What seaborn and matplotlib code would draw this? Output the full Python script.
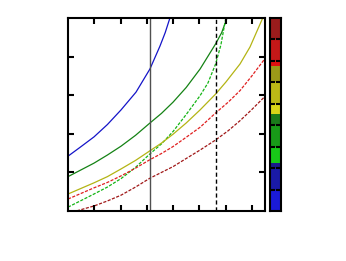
import numpy as np
import pandas as pd
import matplotlib.pyplot as plt
import seaborn as sns
from matplotlib.colors import ListedColormap

# values (x: 0..7.5, y: 0..5)
blue_x = [0.0, 0.46, 0.99, 1.50, 2.02, 2.59, 3.12, 3.50, 3.70, 3.88]
blue_y = [1.42, 1.65, 1.92, 2.24, 2.62, 3.08, 3.68, 4.27, 4.62, 5.00]

green_x = [0.0, 0.99, 1.50, 2.02, 2.57, 3.12, 3.56, 4.00, 4.50, 5.03, 5.62, 5.85, 6.04]
green_y = [0.89, 1.24, 1.45, 1.68, 1.96, 2.28, 2.53, 2.82, 3.20, 3.68, 4.33, 4.62, 4.97]

greendash_x = [0.0, 0.99, 1.50, 2.02, 2.57, 3.12, 3.56, 4.00, 4.50, 5.03, 5.33, 5.62, 5.82, 6.00]
greendash_y = [0.10, 0.44, 0.62, 0.84, 1.13, 1.48, 1.74, 2.06, 2.50, 2.99, 3.32, 3.81, 4.30, 4.97]

olive_x = [0.0, 0.99, 1.50, 2.02, 2.57, 3.12, 3.56, 4.00, 4.50, 5.03, 5.62, 6.01, 6.55, 6.93, 7.42]
olive_y = [0.44, 0.73, 0.89, 1.09, 1.31, 1.56, 1.76, 1.99, 2.28, 2.62, 3.03, 3.34, 3.81, 4.25, 5.01]

red_x = [0.0, 0.99, 1.50, 2.02, 2.57, 3.12, 3.56, 4.00, 4.50, 5.03, 5.62, 6.10, 6.55, 7.00, 7.50]
red_y = [0.31, 0.60, 0.74, 0.91, 1.11, 1.33, 1.49, 1.67, 1.91, 2.17, 2.54, 2.82, 3.12, 3.50, 3.95]

darkred_x = [0.0, 0.99, 1.50, 2.02, 2.57, 3.12, 3.56, 4.00, 4.50, 5.03, 5.62, 6.10, 6.55, 7.00, 7.50]
darkred_y = [-0.06, 0.13, 0.26, 0.41, 0.62, 0.85, 1.00, 1.15, 1.36, 1.58, 1.84, 2.08, 2.34, 2.63, 2.97]

vline_solid = 3.14
vline_dashed = 5.62

# colour strip on the right: band colours and their heights (36 cells)
band_colors = ['#9a1c1c', '#c41818', '#e01010',
               '#9c9a18', '#bcb816', '#d8d418',
               '#1a7a1a', '#189a18', '#18c818',
               '#1a1a8c', '#1a1aa8', '#1a1ad8']
band_sizes = [4, 4, 1, 3, 4, 2, 2, 4, 3, 1, 4, 4]

curves = {
    'blue': (blue_x, blue_y),
    'green': (green_x, green_y),
    'greendash': (greendash_x, greendash_y),
    'olive': (olive_x, olive_y),
    'red': (red_x, red_y),
    'darkred': (darkred_x, darkred_y),
}
df = pd.concat([pd.DataFrame({'x': xs, 'y': ys, 'curve': name})
                for name, (xs, ys) in curves.items()], ignore_index=True)

palette = {'blue': '#1414c8', 'green': '#148214', 'greendash': '#14b414',
           'olive': '#b4b414', 'red': '#e02020', 'darkred': '#a01818'}
dashes = {'blue': '', 'green': '', 'olive': '',
          'greendash': (2.5, 1.2), 'red': (2.5, 1.2), 'darkred': (2.5, 1.2)}

sns.set_style('white')

fig = plt.figure(figsize=(3.46, 2.61), dpi=100)
ax = fig.add_axes([68 / 346, 50 / 261, 197 / 346, 193 / 261])
cax = fig.add_axes([269.5 / 346, 50 / 261, 11.5 / 346, 193 / 261])

sns.lineplot(data=df, x='x', y='y', hue='curve', style='curve',
             palette=palette, dashes=dashes, linewidth=0.9,
             legend=False, ax=ax)
ax.axvline(vline_solid, color='#505050', lw=1.0)
ax.axvline(vline_dashed, color='black', lw=1.0, dashes=(3, 2))

ax.set_xlim(0, 7.5)
ax.set_ylim(0, 5)
ax.set_xticks(range(1, 8))
ax.set_yticks(range(1, 5))
ax.set_xticklabels([])
ax.set_yticklabels([])
ax.set_xlabel('')
ax.set_ylabel('')
ax.set_axisbelow(False)
ax.tick_params(direction='in', length=4, width=1.5, color='black',
               top=True, bottom=True, left=True, right=True)
for s in ax.spines.values():
    s.set_visible(True)
    s.set_linewidth(1.5)
    s.set_color('black')

# colour strip
strip = np.repeat(np.arange(len(band_sizes)), band_sizes)[:, None]
sns.heatmap(strip, cmap=ListedColormap(band_colors), cbar=False, ax=cax,
            vmin=-0.5, vmax=len(band_sizes) - 0.5)
cax.set_axisbelow(False)  # keep the tick marks above the colour cells
cax.set_xticks([])
cax.set_yticks([4, 8, 12, 16, 20, 24, 28, 32])
cax.set_yticklabels([])
cax.tick_params(axis='y', direction='in', length=3.5, width=1.5,
                color='black', left=True, right=True)
for s in cax.spines.values():
    s.set_visible(True)
    s.set_linewidth(1.5)
    s.set_color('black')

fig.savefig('out.png', dpi=100)
plt.close(fig)
